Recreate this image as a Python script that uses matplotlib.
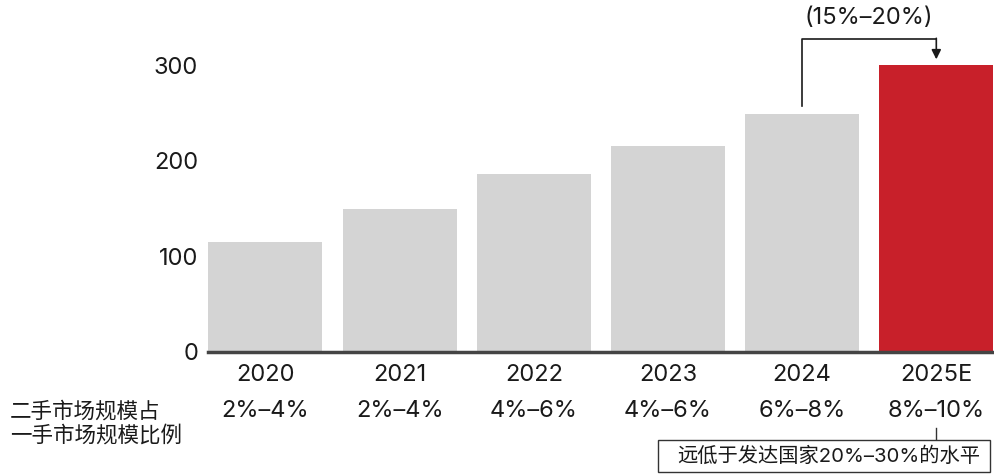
import matplotlib.pyplot as plt
from matplotlib.patches import Rectangle
from matplotlib.transforms import blended_transform_factory

plt.rcParams['font.family'] = ['Inter', 'Noto Sans CJK SC', 'DejaVu Sans']

# Market size by year
years = ['2020', '2021', '2022', '2023', '2024', '2025E']
values = [115, 149, 186, 215, 249, 300]
shares = ['2%–4%', '2%–4%', '4%–6%', '4%–6%', '6%–8%', '8%–10%']
growth_label = '(15%–20%)'
row_label = '二手市场规模占\n一手市场规模比例'
note = '远低于发达国家20%–30%的水平'

grey = '#d4d4d4'
red = '#c8202a'
dark = '#1a1a1a'
fs = 17

fig = plt.figure(figsize=(9.94, 4.75), dpi=100)
ax = fig.add_axes([0.209, 0.259, 0.791, 0.604])

colors = [grey] * (len(years) - 1) + [red]
x = list(range(len(years)))
ax.bar(x, values, width=0.85, color=colors, zorder=2)

ax.set_xlim(-0.43, 5.43)
ax.set_ylim(0, 300)
ax.set_yticks([0, 100, 200, 300])
ax.set_xticks(x)
ax.set_xticklabels(years)
ax.tick_params(axis='both', length=0, labelsize=fs, colors=dark)
ax.tick_params(axis='y', pad=7)
ax.tick_params(axis='x', pad=9)

for side in ['top', 'right', 'left']:
    ax.spines[side].set_visible(False)
ax.spines['bottom'].set_color('#444444')
ax.spines['bottom'].set_linewidth(2.5)
ax.spines['bottom'].set_zorder(3)

# Share row under the year labels
tr = blended_transform_factory(ax.transData, fig.transFigure)
for xi, s in zip(x, shares):
    ax.text(xi, 1 - 411 / 475, s, transform=tr, ha='center', va='center',
            fontsize=fs, color=dark)
fig.text(10 / 994, 1 - 423 / 475, row_label, ha='left', va='center',
         fontsize=15.5, color=dark, linespacing=1.2)

# Note box linked to the last bar
ax.plot([5, 5], [1 - 428 / 475, 1 - 440 / 475], transform=tr, color='#333333',
        lw=1, clip_on=False)
fig.patches.append(Rectangle((658 / 994, 1 - 472 / 475), 332 / 994, 32 / 475,
                             transform=fig.transFigure, fc='white',
                             ec='#333333', lw=1))
fig.text(829 / 994, 1 - 456 / 475, note, ha='center', va='center',
         fontsize=14.6, color=dark)

# Growth bracket from 2024 to 2025E
ax.plot([4, 4, 5], [257, 327, 327], color=dark, lw=1.2, clip_on=False)
ax.annotate('', xy=(5, 306), xytext=(5, 328),
            arrowprops=dict(arrowstyle='-|>', color=dark, lw=1.2,
                            mutation_scale=14, shrinkA=0, shrinkB=0),
            annotation_clip=False)
ax.text(4.5, 349, growth_label, ha='center', va='center', fontsize=fs,
        color=dark)

fig.savefig('out.png', dpi=100, facecolor='white')
